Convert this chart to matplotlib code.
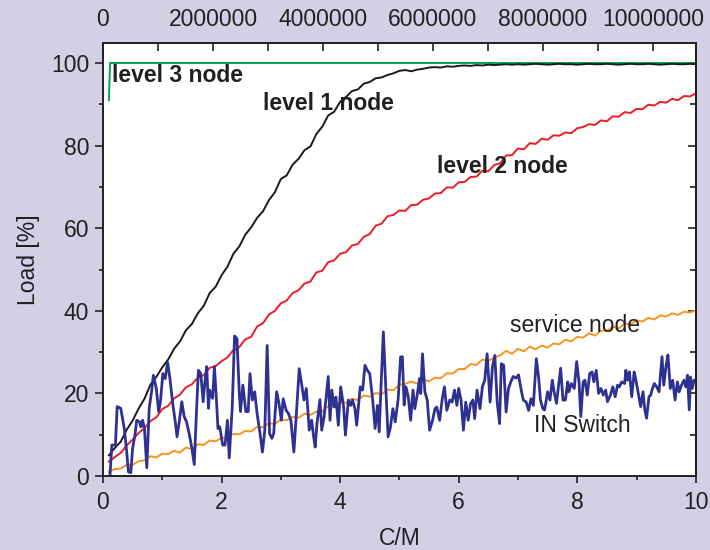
import numpy as np
import matplotlib.pyplot as plt
from matplotlib.ticker import MultipleLocator, FuncFormatter

plt.rcParams['font.family'] = ['Liberation Sans', 'DejaVu Sans']

# shared sampling of the smooth curves (C/M)
cm = np.round(np.arange(1, 101) * 0.1, 1)

level1 = [5.0, 6.8, 8.3, 11.2, 13.4, 16.3, 18.7, 22.1, 24.0, 26.3,
          28.2, 30.8, 32.6, 35.3, 36.8, 39.4, 41.2, 44.3, 45.8, 48.6,
          50.7, 53.8, 55.6, 58.4, 60.2, 62.5, 64.1, 66.8, 68.7, 71.9,
          72.8, 75.4, 76.8, 78.9, 79.8, 82.8, 84.6, 87.3, 88.2, 90.6,
          91.8, 93.2, 93.6, 95.0, 95.4, 96.3, 96.5, 97.1, 97.5, 98.1,
          98.3, 98.0, 98.4, 98.6, 98.9, 99.0, 98.9, 99.2, 99.1, 99.3,
          99.4, 99.3, 99.5, 99.4, 99.6, 99.5, 99.6, 99.7, 99.6, 99.7,
          99.6, 99.7, 99.8, 99.7, 99.6, 99.7, 99.8, 99.7, 99.7, 99.6,
          99.7, 99.8, 99.7, 99.7, 99.8, 99.7, 99.6, 99.7, 99.8, 99.7,
          99.7, 99.8, 99.7, 99.6, 99.7, 99.8, 99.7, 99.7, 99.8, 99.7]

level2 = [3.5, 4.6, 5.6, 7.4, 8.8, 10.4, 11.6, 13.3, 14.2, 16.2,
          17.0, 18.8, 19.7, 21.5, 22.2, 23.8, 24.4, 26.2, 26.6, 27.8,
          28.7, 30.5, 31.2, 33.1, 33.7, 36.2, 37.0, 39.1, 40.0, 41.8,
          42.5, 44.3, 45.0, 46.6, 47.1, 49.3, 49.7, 51.8, 52.2, 53.8,
          54.2, 55.8, 56.2, 57.9, 58.6, 60.6, 61.1, 62.9, 63.2, 64.3,
          64.2, 65.6, 65.7, 66.9, 67.2, 68.4, 68.5, 69.9, 69.8, 71.1,
          71.2, 72.4, 72.5, 73.9, 73.8, 75.3, 75.7, 77.6, 77.7, 79.3,
          79.1, 80.6, 80.4, 81.7, 81.4, 82.5, 82.4, 83.2, 83.0, 84.2,
          84.5, 85.2, 85.0, 86.1, 85.9, 87.1, 87.0, 88.1, 87.9, 88.9,
          88.8, 89.9, 89.7, 90.6, 90.4, 91.3, 91.0, 92.0, 91.9, 92.6]

service = [1.0, 1.7, 1.8, 2.7, 2.7, 3.6, 3.8, 4.8, 4.5, 5.4,
           5.3, 6.1, 5.7, 6.9, 6.5, 7.7, 7.5, 8.6, 8.4, 9.2,
           9.3, 10.2, 10.1, 10.9, 10.8, 11.9, 11.8, 12.8, 12.6, 13.7,
           13.5, 14.3, 14.1, 15.1, 14.8, 15.6, 15.7, 16.9, 16.8, 17.9,
           17.7, 18.7, 18.4, 19.5, 19.2, 20.1, 19.8, 20.9, 20.8, 22.1,
           22.3, 22.9, 22.4, 23.4, 22.9, 23.8, 23.7, 24.9, 24.8, 25.9,
           25.9, 27.1, 26.9, 28.2, 27.9, 28.7, 29.2, 30.3, 29.6, 30.8,
           30.2, 31.3, 30.7, 31.6, 31.1, 32.1, 31.9, 33.0, 32.6, 33.7,
           33.5, 34.6, 34.0, 35.2, 35.2, 36.1, 35.8, 36.9, 36.7, 37.7,
           37.4, 38.3, 37.9, 38.9, 38.6, 39.4, 39.0, 39.8, 39.6, 40.1]

level3_x = [0.1, 0.12, 10.0]
level3_y = [91.0, 100.0, 100.0]

sw_x1 = [0.12, 0.15, 0.21, 0.24, 0.30, 0.36, 0.40, 0.43, 0.47, 0.50, 0.54, 0.57, 0.62, 0.64, 0.67,
         0.70, 0.74, 0.78, 0.82, 0.85, 0.90, 0.94, 0.97, 1.01, 1.05, 1.09, 1.13, 1.18, 1.22, 1.25,
         1.29, 1.33, 1.37, 1.41, 1.46, 1.50, 1.54, 1.58, 1.61, 1.65, 1.69, 1.72, 1.75, 1.78, 1.80,
         1.85, 1.88, 1.91, 1.94, 1.97, 2.02, 2.06, 2.10, 2.13, 2.18, 2.22, 2.26, 2.30, 2.32, 2.36,
         2.41, 2.45]
sw_y1 = [0.5, 7.5, 7.5, 16.8, 16.4, 11.5, 5.9, 1.0, 0.8, 6.7, 9.9, 13.5, 13.1, 11.9, 13.5,
         11.5, 2.0, 16.4, 20.4, 24.4, 21.2, 15.6, 18.0, 24.8, 23.6, 27.5, 23.6, 17.2, 13.1, 9.5,
         13.5, 18.0, 14.4, 13.1, 9.9, 6.7, 2.8, 16.4, 25.6, 24.8, 18.0, 22.8, 26.5, 16.4, 20.8,
         18.8, 26.5, 19.6, 11.5, 11.9, 7.5, 7.5, 13.5, 4.4, 16.4, 33.9, 33.3, 20.0, 15.6, 22.0,
         15.6, 15.6]
sw_x2 = [2.48, 2.52, 2.56, 2.60, 2.65, 2.69, 2.73, 2.77, 2.81, 2.85, 2.88, 2.93, 2.97, 3.01, 3.04,
         3.09, 3.13, 3.17, 3.22, 3.27, 3.31, 3.35, 3.39, 3.43, 3.48, 3.52, 3.55, 3.58, 3.61, 3.66,
         3.69, 3.73, 3.76, 3.80, 3.83, 3.86, 3.90, 3.93, 3.97, 4.01, 4.06, 4.09, 4.14, 4.18, 4.21,
         4.25, 4.28, 4.34, 4.38, 4.42, 4.46, 4.50, 4.55, 4.59, 4.63, 4.66, 4.69, 4.73, 4.77, 4.81,
         4.85, 4.89, 4.93, 4.98, 5.02]
sw_y2 = [24.8, 18.4, 20.4, 15.1, 10.3, 5.8, 11.1, 31.6, 10.3, 9.1, 10.3, 20.4, 17.5, 13.5, 18.7,
         15.9, 15.1, 13.5, 5.8, 16.7, 26.0, 22.4, 18.4, 21.2, 11.1, 13.5, 9.9, 7.0, 12.7, 18.5,
         11.1, 14.3, 18.4, 24.1, 13.5, 20.8, 16.7, 19.1, 12.3, 21.6, 16.7, 9.9, 18.4, 17.1, 18.4,
         16.3, 12.3, 21.6, 20.8, 26.8, 25.6, 24.8, 18.4, 11.5, 17.1, 10.7, 21.6, 34.9, 21.6, 9.5,
         11.9, 16.3, 13.1, 18.7, 28.8]
sw_x3 = [5.05, 5.08, 5.11, 5.15, 5.19, 5.23, 5.26, 5.30, 5.34, 5.36, 5.39, 5.43, 5.47, 5.51, 5.56,
         5.60, 5.63, 5.68, 5.72, 5.76, 5.80, 5.85, 5.89, 5.93, 5.97, 6.00, 6.04, 6.08, 6.12, 6.16,
         6.20, 6.24, 6.27, 6.31, 6.36, 6.40, 6.44, 6.48, 6.53, 6.57, 6.61, 6.65, 6.69, 6.72, 6.76,
         6.80, 6.84, 6.88, 6.92, 6.97, 7.01, 7.05, 7.09, 7.14, 7.18, 7.22, 7.26, 7.31, 7.35, 7.38,
         7.42]
sw_y3 = [28.9, 17.2, 21.6, 19.2, 13.5, 20.8, 16.3, 19.6, 23.6, 20.0, 29.6, 20.4, 18.4, 11.1, 13.5,
         16.3, 16.7, 13.5, 18.4, 21.6, 15.9, 18.4, 17.9, 20.8, 17.1, 21.2, 18.4, 11.1, 17.9, 13.5,
         17.5, 18.4, 13.9, 20.8, 16.3, 21.6, 23.2, 29.6, 17.9, 26.4, 29.2, 17.9, 12.7, 27.2, 26.8,
         15.5, 21.2, 22.8, 24.1, 23.7, 24.5, 21.2, 18.4, 17.9, 15.9, 18.7, 17.1, 28.4, 23.7, 18.4,
         16.3]
sw_x4 = [7.45, 7.50, 7.54, 7.58, 7.61, 7.65, 7.68, 7.72, 7.76, 7.80, 7.84, 7.86, 7.90, 7.95, 7.99,
         8.03, 8.06, 8.10, 8.13, 8.17, 8.21, 8.25, 8.28, 8.32, 8.36, 8.40, 8.44, 8.48, 8.51, 8.56,
         8.60, 8.64, 8.68, 8.71, 8.75, 8.80, 8.82, 8.85, 8.88, 8.92, 8.96, 8.99, 9.03, 9.07, 9.11,
         9.14, 9.17, 9.21, 9.24, 9.26, 9.30, 9.34, 9.38, 9.43, 9.46, 9.50, 9.53, 9.57, 9.61, 9.65,
         9.69, 9.72, 9.76, 9.80, 9.83, 9.86, 9.89, 9.91, 9.94, 9.97, 10.0]
sw_y4 = [16.0, 20.4, 18.4, 23.2, 20.4, 17.6, 21.2, 26.1, 18.4, 18.4, 22.8, 20.4, 22.4, 21.2, 27.7,
         22.8, 14.4, 22.8, 23.2, 19.6, 24.8, 25.2, 22.8, 25.6, 20.0, 21.2, 19.6, 20.8, 18.0, 19.6,
         21.6, 19.2, 22.0, 21.6, 22.8, 22.4, 25.6, 23.2, 25.2, 19.2, 25.2, 23.2, 20.0, 16.8, 20.4,
         16.0, 14.0, 19.2, 19.6, 20.8, 22.4, 21.6, 20.4, 28.9, 22.0, 26.9, 29.3, 21.2, 23.2, 18.4,
         22.8, 20.4, 22.0, 23.2, 21.6, 24.4, 16.0, 24.0, 21.2, 23.2, 23.2]

switch_x = sw_x1 + sw_x2 + sw_x3 + sw_x4
switch_y = sw_y1 + sw_y2 + sw_y3 + sw_y4

ink = '#231f20'
bg = '#d3d0e6'
fs = 16.5

fig = plt.figure(figsize=(7.1, 5.5), dpi=100, facecolor=bg)
ax = fig.add_axes([0.145, 0.1345, 0.835, 0.787])
ax.set_facecolor('white')

ax.plot(level3_x, level3_y, color='#00a651', lw=1.4, zorder=2)
ax.plot(cm, level1, color='#1a1a1a', lw=1.4, zorder=3)
ax.plot(cm, level2, color='#ee1c25', lw=1.4, zorder=3)
ax.plot(cm, service, color='#f7941d', lw=1.4, zorder=3)
ax.plot(switch_x, switch_y, color='#2e3192', lw=2.0, zorder=4)

# curve labels
ax.text(0.15, 95.3, 'level 3 node', fontsize=fs, fontweight='bold', color=ink, zorder=6)
ax.text(2.70, 88.6, 'level 1 node', fontsize=fs, fontweight='bold', color=ink, zorder=6)
ax.text(5.63, 73.3, 'level 2 node', fontsize=fs, fontweight='bold', color=ink, zorder=6)
ax.text(6.86, 34.8, 'service node', fontsize=fs, color=ink, zorder=6)
ax.text(7.27, 10.6, 'IN Switch', fontsize=fs, color=ink, zorder=6)

ax.set_xlim(0, 10)
ax.set_ylim(0, 104.8)
ax.xaxis.set_major_locator(MultipleLocator(2))
ax.xaxis.set_minor_locator(MultipleLocator(1))
ax.yaxis.set_major_locator(MultipleLocator(20))
ax.yaxis.set_minor_locator(MultipleLocator(10))
ax.tick_params(which='both', direction='out', colors=ink, labelsize=fs, width=1.2)
ax.tick_params(which='major', length=5)
ax.tick_params(which='minor', length=3)
ax.tick_params(axis='x', pad=6)
ax.tick_params(axis='y', which='major', length=6, pad=4)
ax.set_xlabel('C/M', fontsize=fs, color=ink, labelpad=9)
ax.set_ylabel('Load [%]', fontsize=fs, color=ink, labelpad=8)
for s in ax.spines.values():
    s.set_color(ink)
    s.set_linewidth(1.2)

# right side: inward ticks, no labels
ry = ax.secondary_yaxis('right')
ry.yaxis.set_major_locator(MultipleLocator(20))
ry.yaxis.set_minor_locator(MultipleLocator(10))
ry.tick_params(which='both', direction='in', colors=ink, width=1.2, labelright=False)
ry.tick_params(which='major', length=6)
ry.tick_params(which='minor', length=4)
ry.spines['right'].set_color(ink)
ry.spines['right'].set_linewidth(1.2)

# top axis in absolute counts
top = ax.twiny()
top.set_xlim(0, 10.78e6)
top.xaxis.set_major_locator(MultipleLocator(2e6))
top.xaxis.set_minor_locator(MultipleLocator(1e6))
top.xaxis.set_major_formatter(FuncFormatter(lambda v, p: f"{int(round(v))}"))
top.tick_params(which='both', direction='in', colors=ink, labelsize=fs, width=1.2, length=6, pad=9)
for s in top.spines.values():
    s.set_color(ink)
    s.set_linewidth(1.2)

fig.savefig('out.png', dpi=100, facecolor=bg)
